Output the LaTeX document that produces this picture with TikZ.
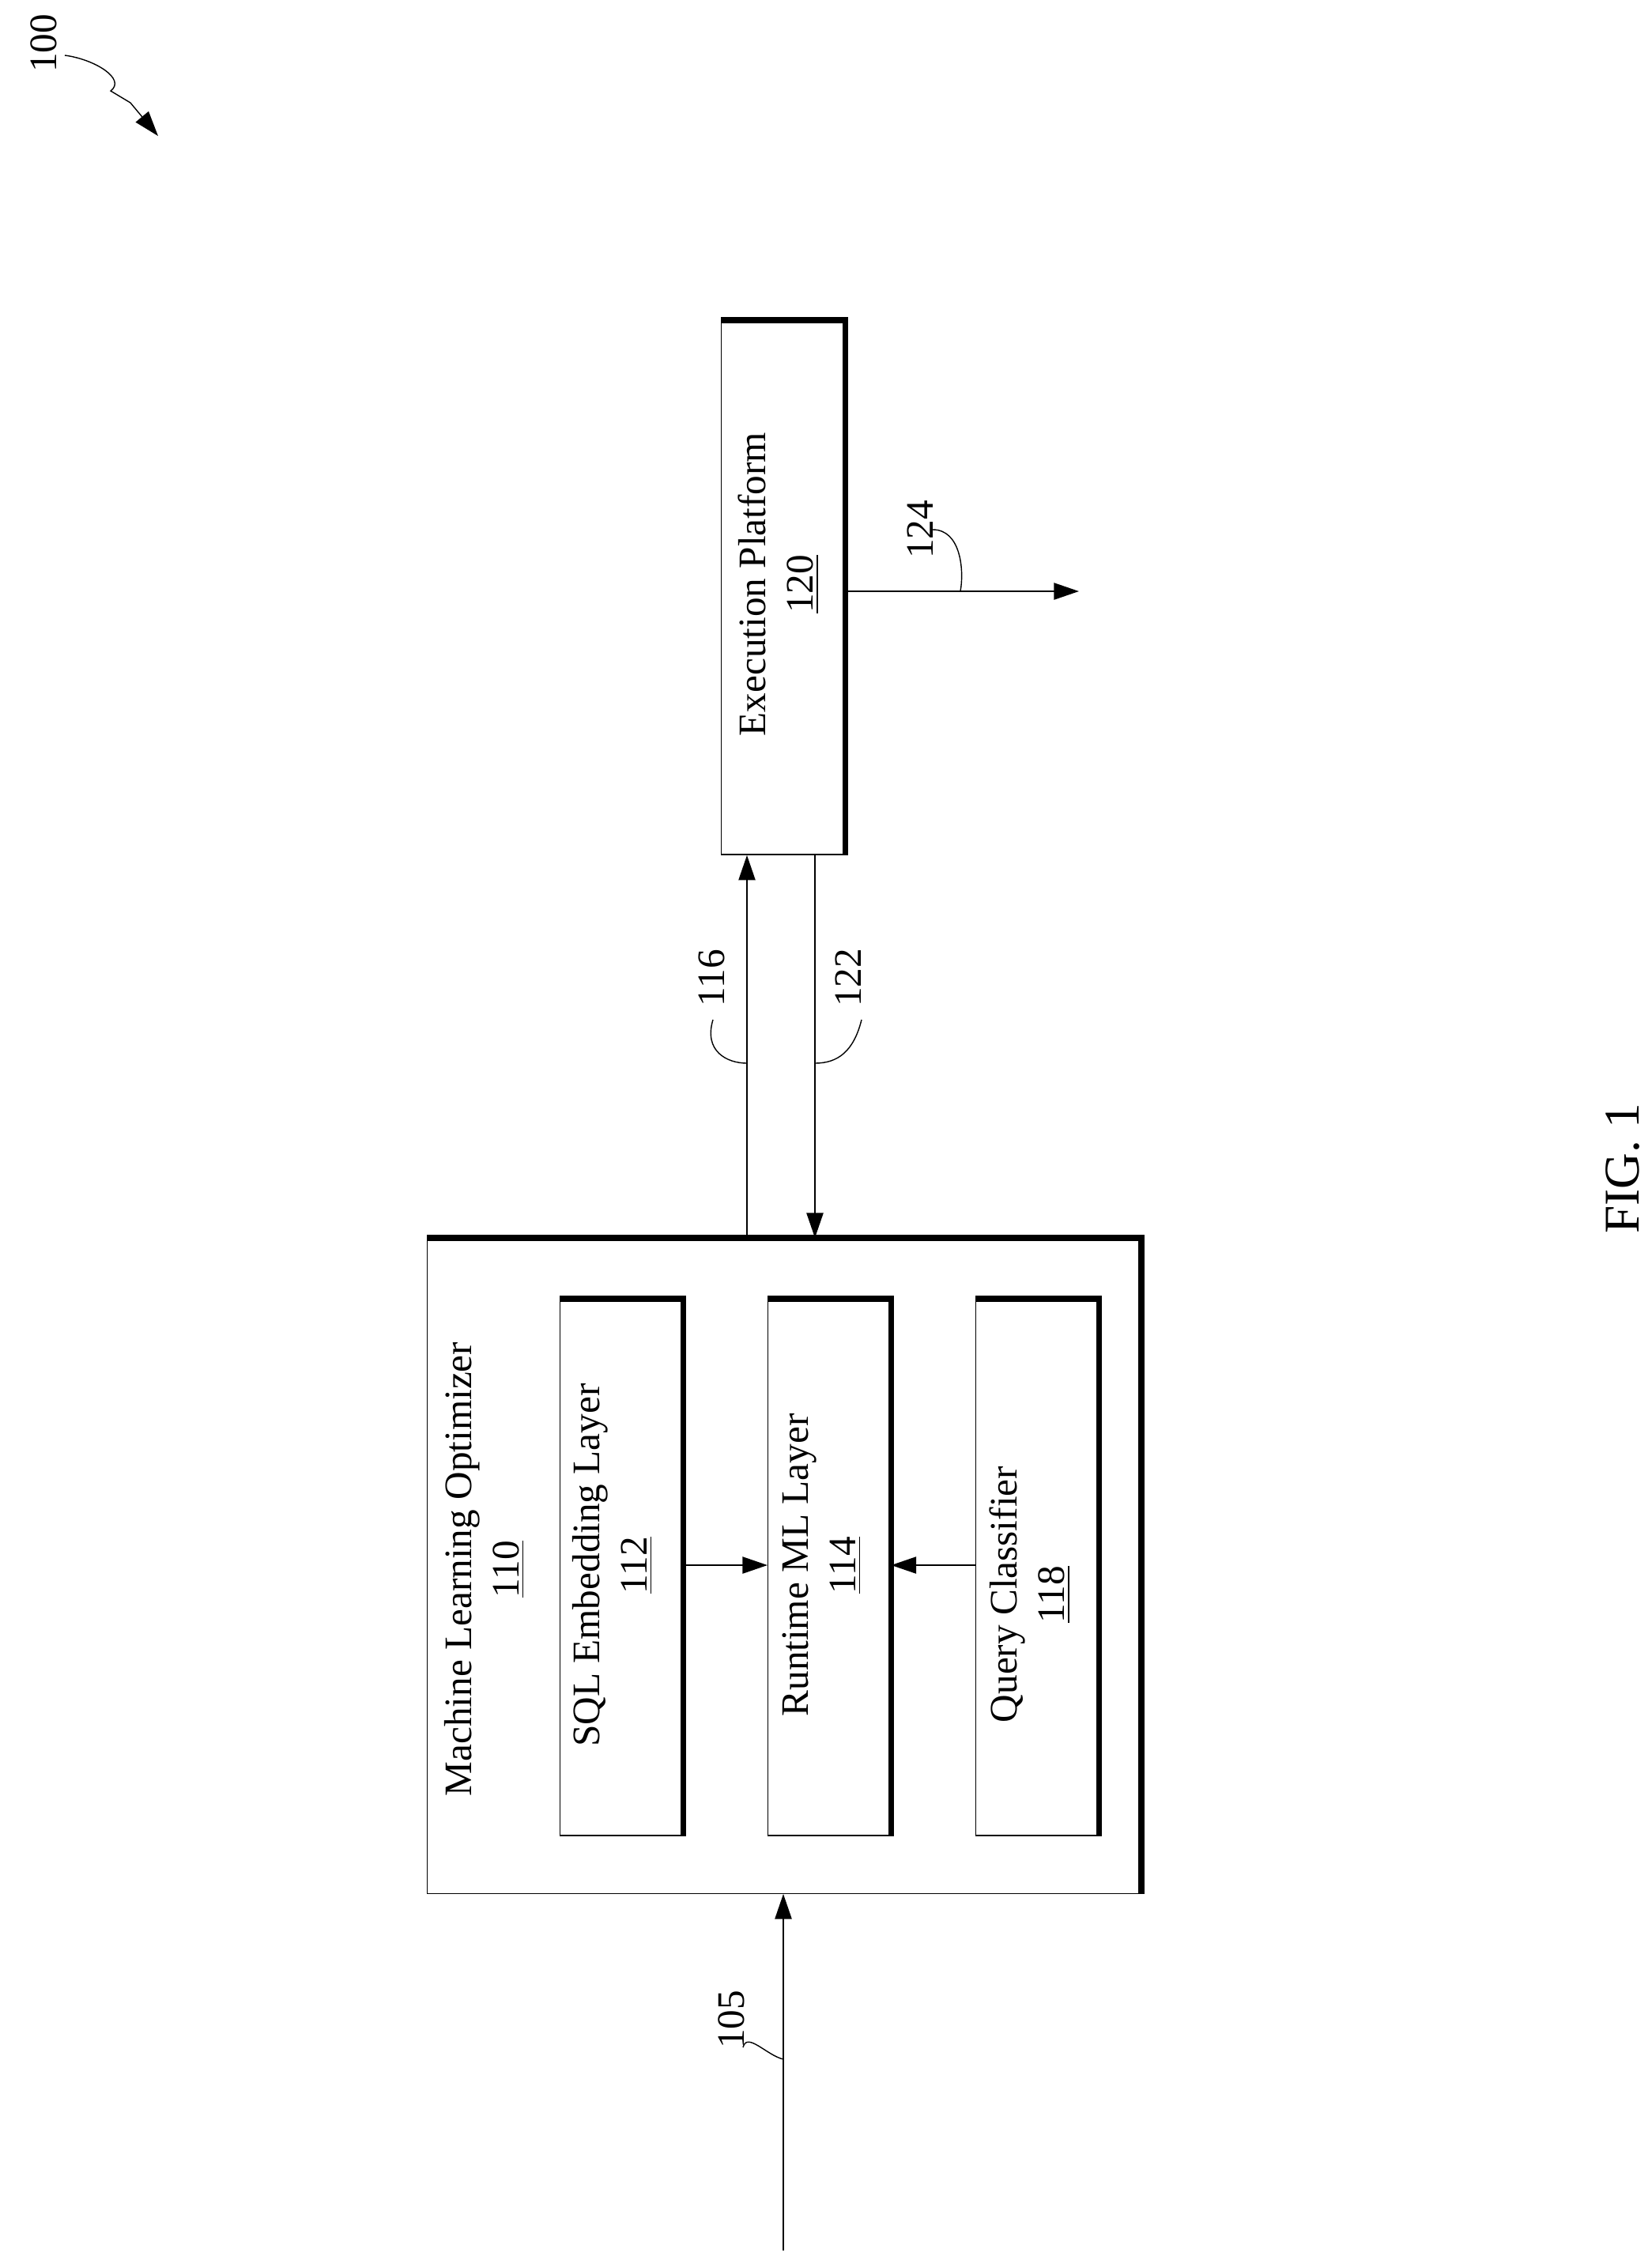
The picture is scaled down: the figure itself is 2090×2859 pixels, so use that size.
\documentclass[tikz,border=0pt]{standalone}
\usepackage{fontspec}
\setmainfont{Liberation Serif}
\usetikzlibrary{arrows.meta,positioning}

\tikzset{
  blk/.style={draw,thin,inner sep=0pt},
  lbl/.style={rotate=90,align=center,font=\fontsize{14}{17}\selectfont},
  conn/.style={-{Triangle[length=9pt,width=6pt]},semithick},
  hook/.style={thin}
}

\begin{document}
\begin{tikzpicture}[x=0.01cm,y=-0.01cm]
  \useasboundingbox (0,0) rectangle (2090,2859);

  % boxes
  \node[blk,minimum width=9.02cm,minimum height=8.28cm,anchor=north west] (MLO) at (540,1566) {};
  \node[blk,minimum width=1.56cm,minimum height=6.75cm,anchor=north west] (EP) at (912,405) {};
  \node[blk,minimum width=1.55cm,minimum height=6.78cm,anchor=north west] (SQL) at (708,1643) {};
  \node[blk,minimum width=1.55cm,minimum height=6.78cm,anchor=north west] (RML) at (971,1643) {};
  \node[blk,minimum width=1.55cm,minimum height=6.78cm,anchor=north west] (QC) at (1234,1643) {};
  \foreach \b in {MLO,EP,SQL,RML,QC}
    \draw[line width=2.2pt] (\b.north west) -- (\b.north east) -- (\b.south east);

  % texts
  \node[lbl] (MLOt) at (613,1985) {Machine Learning Optimizer\\\underline{110}};
  \node[lbl] (SQLt) at (775,1980) {SQL Embedding Layer\\\underline{112}};
  \node[lbl] (RMLt) at (1040,1980) {Runtime ML Layer\\\underline{114}};
  \node[lbl] (QCt) at (1303,2017) {Query Classifier\\\underline{118}};
  \node[lbl] (EPt) at (985,739) {Execution Platform\\\underline{120}};

  % connectors
  \draw[conn] (SQL.east |- 0,1980) -- (RML.west |- 0,1980);
  \draw[conn] (QC.west |- 0,1980) -- (RML.east |- 0,1980);
  \coordinate (in) at (991,2847);
  \coordinate (out) at (1365,748);
  \draw[conn] (in) -- (MLO.south -| in);
  \draw[conn] (MLO.north -| 945,0) -- (EP.south -| 945,0);
  \draw[conn] (EP.south -| 1031,0) -- (MLO.north -| 1031,0);
  \draw[conn] (EP.east |- out) -- (out);

  % reference numerals
  \node[lbl] (n105) at (925,2555) {105};
  \draw[hook] (940,2590) .. controls (945,2570) and (970,2600) .. (991,2605);
  \node[lbl] (n116) at (900,1237) {116};
  \draw[hook] (902,1290) .. controls (890,1330) and (920,1345) .. (945,1345);
  \node[lbl] (n122) at (1073,1237) {122};
  \draw[hook] (1090,1290) .. controls (1080,1330) and (1060,1345) .. (1031,1345);
  \node[lbl] (n124) at (1164,670) {124};
  \draw[hook] (1180,670) .. controls (1215,670) and (1220,720) .. (1215,748);
  \node[lbl] (n100) at (55,55) {100};
  \draw[-{Triangle[length=9pt,width=6pt]},thin] (82,70) .. controls (120,75) and (160,100) .. (140,115)
    -- (165,130) -- (200,172);

  \node[lbl,font=\fontsize{18}{21}\selectfont] (fig) at (2053,1478) {FIG. 1};
\end{tikzpicture}
\end{document}
